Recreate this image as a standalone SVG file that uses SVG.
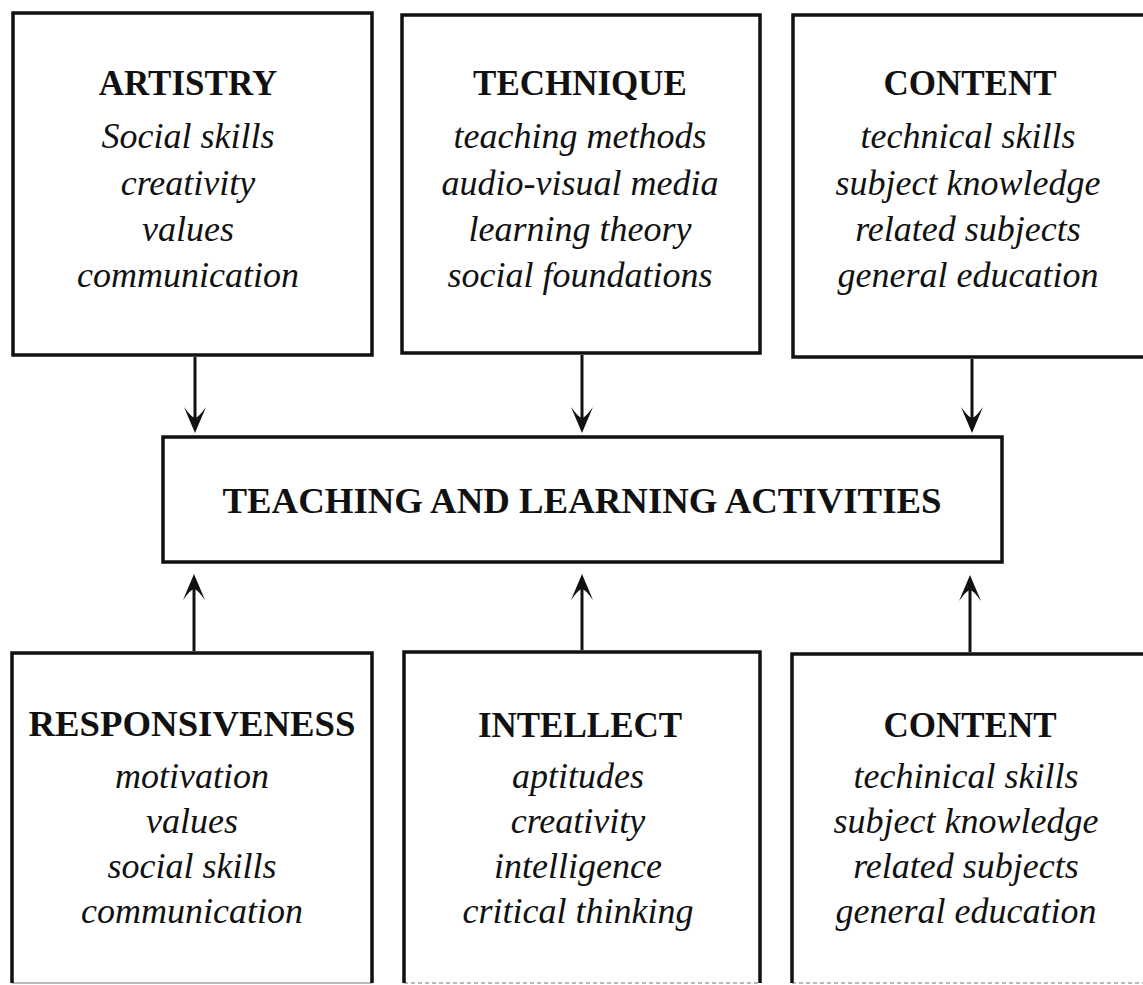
<svg xmlns="http://www.w3.org/2000/svg" width="1143" height="985" viewBox="0 0 1143 985">
<style>
.box{fill:#fff;stroke:#111;stroke-width:3.5}
.edge{fill:none;stroke:#111;stroke-width:3.5}
.faint{fill:none;stroke:#777;stroke-width:1.2}
.title{font-family:"Liberation Serif","Times New Roman",serif;font-weight:bold;font-size:35px;fill:#111;text-anchor:middle}
.main{font-family:"Liberation Serif","Times New Roman",serif;font-weight:bold;font-size:36px;fill:#111;text-anchor:middle}
.item{font-family:"Liberation Serif","Times New Roman",serif;font-style:italic;font-size:36px;fill:#111;text-anchor:middle}
.conn{fill:none;stroke:#111;stroke-width:3}
</style>
<defs>
<marker id="arr" markerUnits="userSpaceOnUse" viewBox="-30 -15 32 30" refX="-12" refY="0" markerWidth="32" markerHeight="30" orient="auto" overflow="visible">
<path d="M0,0 L-26,-11 Q-15,-3 -15,0 Q-15,3 -26,11 Z" fill="#111"/>
</marker>
</defs>
<rect width="1143" height="985" fill="#fff"/>

<g id="artistry">
<rect class="box" x="13" y="13" width="359" height="342"/>
<text class="title" x="188" y="95">ARTISTRY</text>
<text class="item" x="188" y="148">Social skills</text>
<text class="item" x="188" y="195">creativity</text>
<text class="item" x="188" y="241">values</text>
<text class="item" x="188" y="287">communication</text>
</g>

<g id="technique">
<rect class="box" x="402" y="15" width="358" height="338"/>
<text class="title" x="580" y="95">TECHNIQUE</text>
<text class="item" x="580" y="148">teaching methods</text>
<text class="item" x="580" y="195">audio-visual media</text>
<text class="item" x="580" y="241">learning theory</text>
<text class="item" x="580" y="287">social foundations</text>
</g>

<g id="content-top">
<rect class="box" x="793" y="15" width="362" height="342"/>
<text class="title" x="970" y="95">CONTENT</text>
<text class="item" x="968" y="148">technical skills</text>
<text class="item" x="968" y="195">subject knowledge</text>
<text class="item" x="968" y="241">related subjects</text>
<text class="item" x="968" y="287">general education</text>
</g>

<g id="activities">
<rect class="box" x="163" y="437" width="839" height="125"/>
<text class="main" x="582" y="513" textLength="719" lengthAdjust="spacingAndGlyphs">TEACHING AND LEARNING ACTIVITIES</text>
</g>

<g id="responsiveness">
<path class="faint" d="M12,983 H372"/>
<path class="edge" d="M12,983 V653 H372 V983"/>
<text class="title" x="192" y="736" textLength="327" lengthAdjust="spacingAndGlyphs">RESPONSIVENESS</text>
<text class="item" x="192" y="788">motivation</text>
<text class="item" x="192" y="833">values</text>
<text class="item" x="192" y="878">social skills</text>
<text class="item" x="192" y="923">communication</text>
</g>

<g id="intellect">
<path class="faint" d="M404,983 H760" stroke-dasharray="4 3"/>
<path class="edge" d="M404,983 V652 H760 V983"/>
<text class="title" x="580" y="737">INTELLECT</text>
<text class="item" x="578" y="788">aptitudes</text>
<text class="item" x="578" y="833">creativity</text>
<text class="item" x="578" y="878">intelligence</text>
<text class="item" x="578" y="923">critical thinking</text>
</g>

<g id="content-bottom">
<path class="faint" d="M792,983 H1143" stroke-dasharray="4 3"/>
<path class="edge" d="M792,983 V654 H1150"/>
<text class="title" x="970" y="737">CONTENT</text>
<text class="item" x="966" y="788">techinical skills</text>
<text class="item" x="966" y="833">subject knowledge</text>
<text class="item" x="966" y="878">related subjects</text>
<text class="item" x="966" y="923">general education</text>
</g>

<g id="connectors">
<line class="conn" x1="195" y1="357" x2="195" y2="421" marker-end="url(#arr)"/>
<line class="conn" x1="582" y1="355" x2="582" y2="421" marker-end="url(#arr)"/>
<line class="conn" x1="972" y1="359" x2="972" y2="421" marker-end="url(#arr)"/>
<line class="conn" x1="194" y1="651" x2="194" y2="586" marker-end="url(#arr)"/>
<line class="conn" x1="582" y1="650" x2="582" y2="586" marker-end="url(#arr)"/>
<line class="conn" x1="970" y1="652" x2="970" y2="587" marker-end="url(#arr)"/>
</g>
</svg>
